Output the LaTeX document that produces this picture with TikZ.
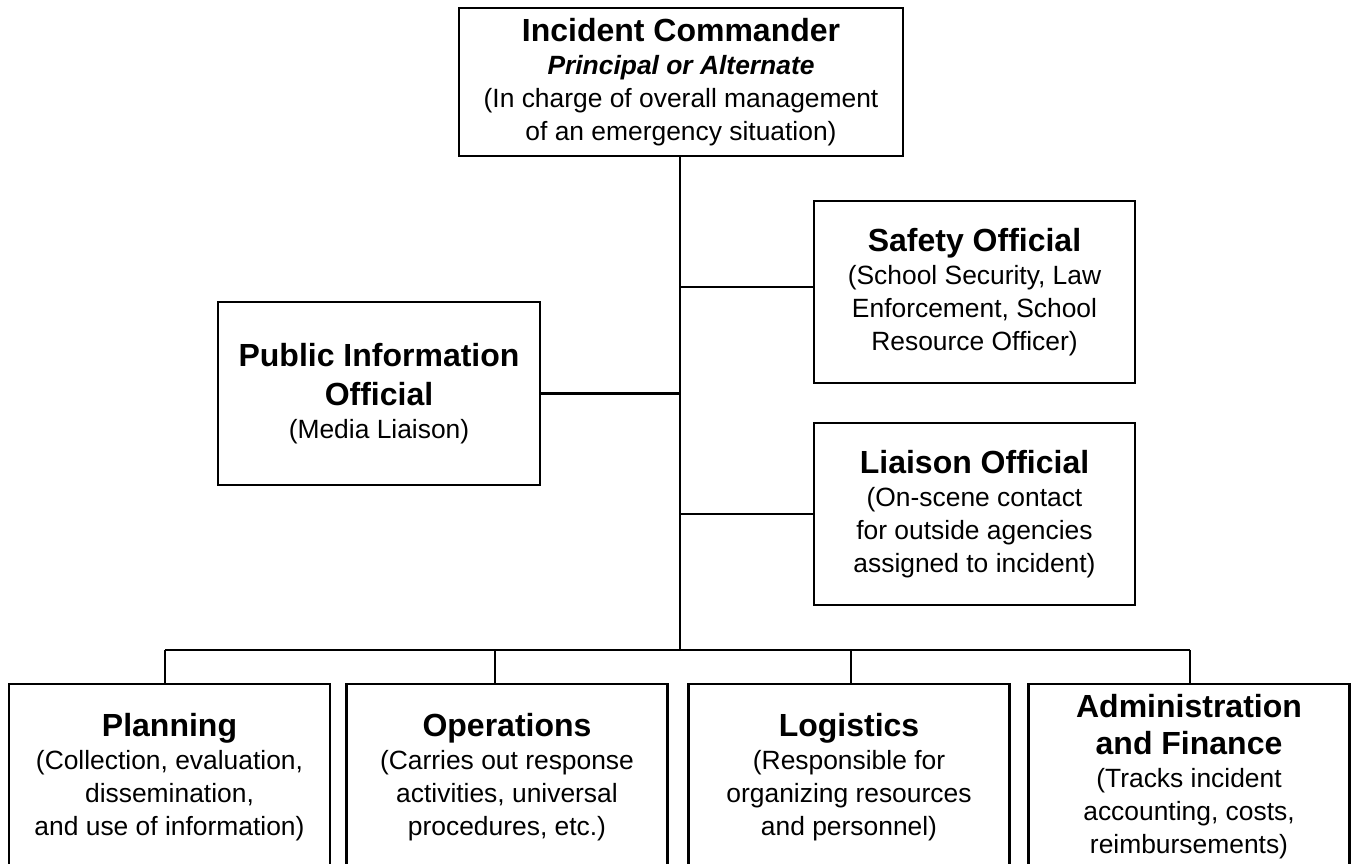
\documentclass[tikz,border=0pt]{standalone}
\usepackage{fontspec}
\setmainfont{Liberation Sans}
\newcommand{\ttl}{\fontsize{16}{18.5}\selectfont\bfseries}
\newcommand{\txt}{\fontsize{13.2}{16.5}\selectfont}

\begin{document}
\begin{tikzpicture}[x=0.5pt,y=-0.5pt,
  box/.style={draw, line width=1.4pt, align=center, inner sep=0pt, font=\txt},
  side/.style={box, minimum width=160.5pt, minimum height=91pt},
  unit/.style={box, minimum width=160.5pt, minimum height=93pt},
  link/.style={line width=1.4pt}]
\useasboundingbox (0,0) rectangle (1353,863);
% command and staff
\node[box, minimum width=222pt, minimum height=74pt] (ic) at (681,82)
  {{\ttl Incident Commander}\\{\bfseries\itshape Principal or Alternate}\\(In charge of overall management\\of an emergency situation)};
\node[side] (safety) at (974.5,292)
  {{\ttl Safety Official}\\(School Security, Law\\Enforcement, School\\Resource Officer)};
\node[side, minimum width=161pt, minimum height=91.5pt] (pio) at (379,393.5)
  {{\ttl Public Information}\\[3pt]{\ttl Official}\\(Media Liaison)};
\node[side] (liaison) at (974.5,514)
  {{\ttl Liaison Official}\\(On-scene contact\\for outside agencies\\assigned to incident)};
% general staff
\node[unit] (plan) at (169.5,777)
  {{\ttl Planning}\\(Collection, evaluation,\\dissemination,\\and use of information)};
\node[unit] (ops) at (507,777)
  {{\ttl Operations}\\(Carries out response\\activities, universal\\procedures, etc.)};
\node[unit] (logi) at (849,777)
  {{\ttl Logistics}\\(Responsible for\\organizing resources\\and personnel)};
\node[unit] (admin) at (1189,777)
  {{\ttl Administration}\\[2pt]{\ttl and Finance}\\(Tracks incident\\accounting, costs,\\reimbursements)};
% lines
\coordinate (bar) at (680,650);
\coordinate (sj) at (680,287);
\draw[link] (ic.south -| bar) -- (bar);
\draw[link] (sj) -- (sj -| safety.west);
\draw[link] (pio.east) -- (pio.east -| bar);
\draw[link] (liaison.west) -- (liaison.west -| bar);
\draw[link] (165,650) -- (1190,650);
\foreach \n/\x in {plan/165, ops/495, logi/851, admin/1190}
  \draw[link] (\x,650) -- (\n.north -| \x,0);
\end{tikzpicture}
\end{document}
